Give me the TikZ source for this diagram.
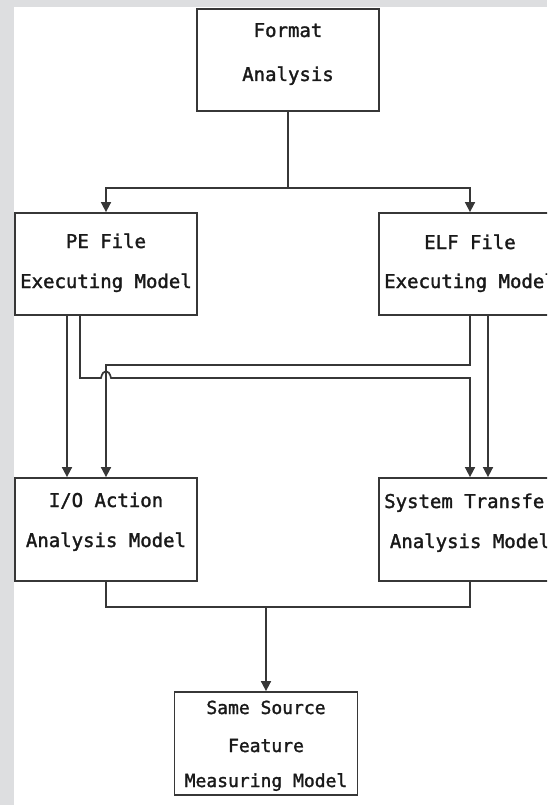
\documentclass[tikz,border=0pt]{standalone}
\usepackage{fontspec}
\usetikzlibrary{arrows.meta,calc}
\newfontfamily\boxfont[FakeBold=1.6]{DejaVu Sans Mono}
\definecolor{pagegray}{RGB}{221,222,224}
\definecolor{inkline}{RGB}{55,55,55}
\definecolor{inktext}{RGB}{25,25,25}
\tikzset{
  box/.style={draw=inkline, line width=1.8pt, fill=white, minimum width=182pt, minimum height=102pt, inner sep=0pt},
  lbl/.style={anchor=base, inner sep=0pt, text=inktext, font=\boxfont\fontsize{19}{19}\selectfont},
  lblsmall/.style={lbl, font=\boxfont\fontsize{18}{18}\selectfont},
  wire/.style={draw=inkline, line width=1.7pt},
  flow/.style={wire, -{Triangle[length=10pt,width=10pt]}}
}
\begin{document}
\begin{tikzpicture}[x=1pt,y=-1pt]
\useasboundingbox (0,0) rectangle (547,805);
% page frame: gray margin on the left and top
\fill[pagegray] (0,0) rectangle (547,805);
\fill[white] (13.5,7.5) rectangle (547,805);
\begin{scope}
\clip (0,0) rectangle (547,805);

% boxes
\node[box] (fmt)  at (288,60)      {};
\node[box] (pe)   at (106,264)     {};
\node[box] (elf)  at (470,264)     {};
\node[box, minimum height=103pt] (io)  at (106,529.5) {};
\node[box, minimum height=103pt] (sys) at (470,529.5) {};
\node[box, minimum width=183pt, minimum height=103pt] (same) at (266,743.5) {};

% labels
\node[lbl] (fmt1) at (288,37) {Format};
\node[lbl] (fmt2) at (288,81) {Analysis};
\node[lbl] (pe1)  at (106,248) {PE File};
\node[lbl] (pe2)  at (106,288) {Executing Model};
\node[lbl] (elf1) at (470,249) {ELF File};
\node[lbl] (elf2) at (470,288) {Executing Model};
\node[lbl] (io1)  at (106,507) {I/O Action};
\node[lbl] (io2)  at (106,547) {Analysis Model};
\node[lbl] (sys1) at (470,508) {System Transfer};
\node[lbl] (sys2) at (470,548) {Analysis Model};
\node[lblsmall] (same1) at (266,714) {Same Source};
\node[lblsmall] (same2) at (266,752) {Feature};
\node[lblsmall] (same3) at (266,787) {Measuring Model};

% format analysis fans out to both executing models
\coordinate (split) at (288,188);
\draw[wire] (fmt.south) -- (split);
\draw[flow] (split) -| (pe.north);
\draw[flow] (split) -| (elf.north);

% PE model outputs
\draw[flow] ([xshift=-39pt]pe.south) -- ([xshift=-39pt]io.north);
\draw[flow] ([xshift=-26pt]pe.south) -- ++(0,62) -- ++(21,0)
  .. controls ++(2,-9) and ++(-2,-9) .. ++(10,0) -| (sys.north);

% ELF model outputs
\draw[flow] (elf.south) -- ++(0,49) -| (io.north);
\draw[flow] ([xshift=18pt]elf.south) -- ([xshift=18pt]sys.north);

% both analysis models merge into the measuring model
\draw[wire] (io.south) -- ++(0,25) coordinate (m1) -| (sys.south);
\coordinate (merge) at (same.north |- m1);
\draw[flow] (merge) -- (same.north);
\end{scope}
\end{tikzpicture}
\end{document}
